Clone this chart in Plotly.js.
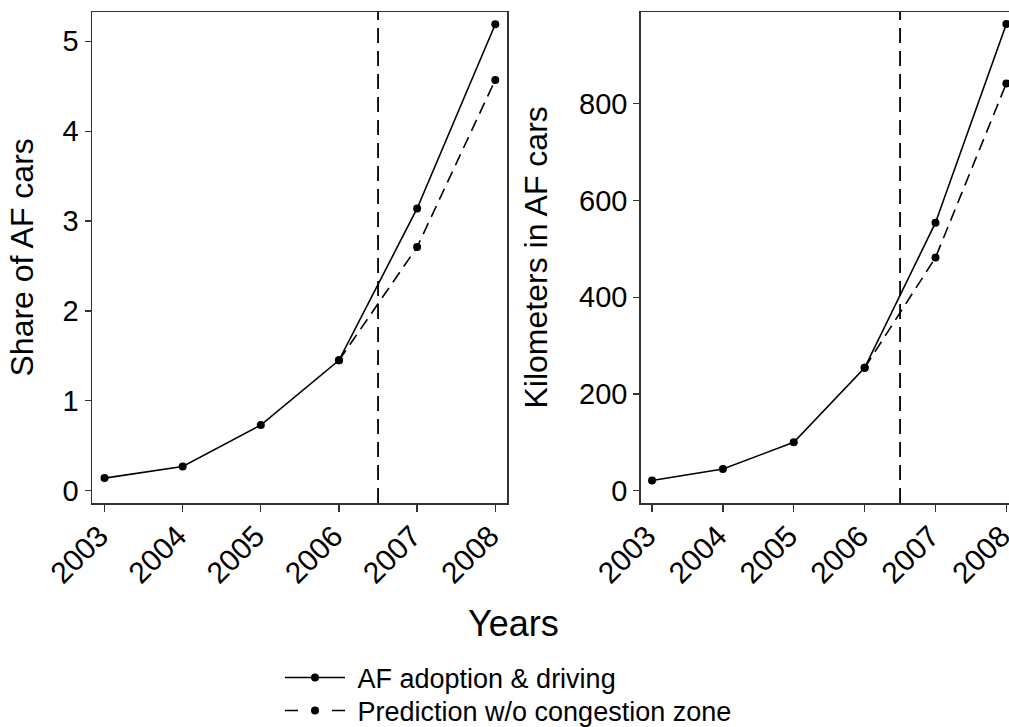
<!DOCTYPE html>
<html>
<head>
<meta charset="utf-8">
<script src="https://cdn.plot.ly/plotly-3.0.1.min.js"></script>
<style>
html, body { margin: 0; padding: 0; overflow: hidden; background: #fff; }
#chart { width: 1020px; height: 750px; }
</style>
</head>
<body>
<div id="chart"></div>
<script>
// ---- data ----
const years = [2003, 2004, 2005, 2006, 2007, 2008];
const predYears = [2006, 2007, 2008];
const shareActual = [0.14, 0.27, 0.73, 1.45, 3.14, 5.19];
const sharePred = [1.45, 2.71, 4.57];
const kmActual = [21, 45, 100, 254, 554, 965];
const kmPred = [254, 482, 842];
const cutoffYear = 2006.5;
const seriesNames = ["AF adoption & driving", "Prediction w/o congestion zone"];
const yTitles = ["Share of AF cars", "Kilometers in AF cars"];
const xTitle = "Years";

// the figure is drawn a little larger than the 1009x727 window, which crops it
const W = 1020, H = 750;
const FONT = "Liberation Sans, Arial, Helvetica, sans-serif";
const frame = "#333333";
const NB = "\u00a0";

function solid(x, y, xa, ya, name, show, lg) {
  return {x: x, y: y, xaxis: xa, yaxis: ya, name: name, showlegend: show, legend: lg,
    mode: "lines+markers", type: "scatter",
    line: {color: "#000", width: 1.6}, marker: {color: "#000", size: 8}};
}
function dashed(x, y, xa, ya, name, show, dash, lg) {
  return {x: x, y: y, xaxis: xa, yaxis: ya, name: name, showlegend: show, legend: lg,
    mode: "lines+markers", type: "scatter",
    line: {color: "#000", width: 1.6, dash: dash}, marker: {color: "#000", size: 8}};
}

const traces = [
  solid(years, shareActual, "x", "y", NB + seriesNames[0], true, "legend"),
  dashed(predYears, sharePred, "x", "y", seriesNames[1], false, "12px,7px", "legend2"),
  solid(years, kmActual, "x2", "y2", seriesNames[0], false, "legend"),
  dashed(predYears, kmPred, "x2", "y2", seriesNames[1], false, "12px,7px", "legend2"),
  // legend key only (no data drawn), with the key's own dash layout
  dashed([null], [null], "x", "y", NB + seriesNames[1], true, "13px,34px", "legend2")
];

const yDom = [1 - 503 / H, 1 - 12 / H];
function xax(dom, anchor) {
  return {domain: dom, anchor: anchor, range: [2002.84, 2008.15],
    tickvals: years, ticktext: years.map(String), tickangle: -45,
    ticks: "outside", ticklen: 7, tickwidth: 1.3, tickcolor: frame,
    showline: true, linecolor: frame, linewidth: 1.5, mirror: true,
    showgrid: false, zeroline: false, automargin: false,
    ticklabeloverflow: "allow", ticklabelstandoff: -5, ticklabelshift: -5,
    tickfont: {family: FONT, size: 30, color: "#000"}};
}
function yax(dom, anchor, range, tv) {
  return {domain: dom, anchor: anchor, range: range, tickvals: tv,
    ticks: "outside", ticklen: 6, tickwidth: 1.3, tickcolor: frame,
    showline: true, linecolor: frame, linewidth: 1.5, mirror: true,
    showgrid: false, zeroline: false, automargin: false,
    tickfont: {family: FONT, size: 29, color: "#000"}};
}
function legendAt(yc) {
  return {orientation: "v", x: 280 / W, xanchor: "left", y: 1 - yc / H, yanchor: "middle",
    font: {family: FONT, size: 27, color: "#000"}, itemwidth: 60,
    bgcolor: "rgba(0,0,0,0)", borderwidth: 0, tracegroupgap: 0};
}

const layout = {
  width: W, height: H,
  margin: {l: 0, r: 0, t: 0, b: 0, autoexpand: false},
  paper_bgcolor: "#fff", plot_bgcolor: "#fff",
  showlegend: true,
  xaxis: xax([92 / W, 507 / W], "y"),
  yaxis: yax(yDom, "x", [-0.137, 5.326], [0, 1, 2, 3, 4, 5]),
  xaxis2: xax([640.7 / W, 1017 / W], "y2"),
  yaxis2: yax(yDom, "x2", [-25.4, 989.6], [0, 200, 400, 600, 800]),
  shapes: [
    {type: "line", xref: "x", yref: "y domain", x0: cutoffYear, x1: cutoffYear, y0: 0, y1: 1,
     line: {color: "#000", width: 1.8, dash: "15px,8px"}},
    {type: "line", xref: "x2", yref: "y2 domain", x0: cutoffYear, x1: cutoffYear, y0: 0, y1: 1,
     line: {color: "#000", width: 1.8, dash: "15px,8px"}}
  ],
  annotations: [
    {text: yTitles[0], xref: "paper", yref: "paper", x: 22 / W, y: 1 - 257.5 / H,
     xanchor: "center", yanchor: "middle", textangle: -90, showarrow: false,
     font: {family: FONT, size: 32, color: "#000"}},
    {text: yTitles[1], xref: "paper", yref: "paper", x: 536 / W, y: 1 - 257.5 / H,
     xanchor: "center", yanchor: "middle", textangle: -90, showarrow: false,
     font: {family: FONT, size: 32, color: "#000"}},
    {text: xTitle, xref: "paper", yref: "paper", x: 513 / W, y: 1 - 623 / H,
     xanchor: "center", yanchor: "middle", showarrow: false,
     font: {family: FONT, size: 36, color: "#000"}}
  ],
  legend: legendAt(678),
  legend2: legendAt(711)
};

Plotly.newPlot("chart", traces, layout, {displayModeBar: false, staticPlot: true});
</script>
</body>
</html>
